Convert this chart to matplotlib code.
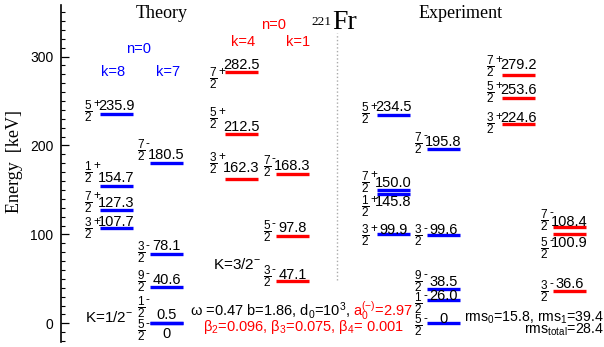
import matplotlib
matplotlib.use('Agg')
import matplotlib.pyplot as plt
from matplotlib.ticker import MultipleLocator

plt.rcParams['font.family'] = ['Liberation Sans', 'DejaVu Sans']
plt.rcParams['mathtext.fontset'] = 'custom'
plt.rcParams['mathtext.rm'] = 'Liberation Sans'
plt.rcParams['mathtext.it'] = 'Liberation Sans:italic'
plt.rcParams['mathtext.bf'] = 'Liberation Sans:bold'
plt.rcParams['mathtext.sf'] = 'Liberation Sans'

# --- level energies (keV) and spins ---
# theory, K=1/2- (blue): k=8 and k=7 columns
th_k8_E = [235.9, 154.7, 127.3, 107.7]
th_k8_J = ['5/2+', '1/2+', '7/2+', '3/2+']
th_k7_E = [180.5, 78.1, 40.6, 0.5, 0]
th_k7_J = ['7/2-', '3/2-', '9/2-', '1/2-', '5/2-']
# theory, K=3/2- (red): k=4 and k=1 columns
th_k4_E = [282.5, 212.5, 162.3]
th_k4_J = ['7/2+', '5/2+', '3/2+']
th_k1_E = [168.3, 97.8, 47.1]
th_k1_J = ['7/2-', '5/2-', '3/2-']
# experiment
ex_b1_E = [234.5, 150.0, 145.8, 99.9]
ex_b1_J = ['5/2+', '7/2+', '1/2+', '3/2+']
ex_b2_E = [195.8, 99.6, 38.5, 26.0, 0]
ex_b2_J = ['7/2-', '3/2-', '9/2-', '1/2-', '5/2-']
ex_r1_E = [279.2, 253.6, 224.6]
ex_r1_J = ['7/2+', '5/2+', '3/2+']
ex_r2_E = [108.4, 100.9, 36.6]
ex_r2_J = ['7/2-', '5/2-', '3/2-']

# --- layout: column left edge (px), colour, label nudges in keV ---
W = 33
columns = [
    (100, 'blue', th_k8_E, th_k8_J, [3, 15, 9, -1], [10, 10, 10, 8]),
    (150, 'blue', th_k7_E, th_k7_J, [14, 2, 7, 18, -8], [10, 10, 10, 10, -10]),
    (225, 'red', th_k4_E, th_k4_J, [-7, 18, 18], [10, 10, 14]),
    (276, 'red', th_k1_E, th_k1_J, [9, 6, 6], [10, 11, 9]),
    (377, 'blue', ex_b1_E, ex_b1_J, [2, 9, -14, -1], [10, 10, -8, 7]),
    (427, 'blue', ex_b2_E, ex_b2_J, [7, -1, 9, -3, -2], [10, 7, 10, 6, 7]),
    (502, 'red', ex_r1_E, ex_r1_J, [10, 6, 0], [13, 10, 8]),
    (553, 'red', ex_r2_E, ex_r2_J, [8, -16, 0], [7, -9, 9]),
]

YLIM = (-21, 358)
PX = 337 / (YLIM[1] - YLIM[0])   # pixels per keV


def val_str(e):
    return '0' if e == 0 else '%.1f' % e


def spin_label(ax, x0, yc, j, fs=8.5):
    num, rest = j.split('/')
    den, sign = rest[:-1], rest[-1]
    sw = 7 if sign == '+' else 4
    ax.text(x0 - sw, yc, r'$\dfrac{%s}{%s}$' % (num, den), ha='right', va='center', fontsize=fs)
    ax.text(x0 - sw, yc + 8 / PX, sign, ha='left', va='center_baseline', fontsize=fs)


fig = plt.figure(figsize=(6.04, 3.47), dpi=100)
ax = fig.add_axes([61 / 604, 5 / 347, 543 / 604, 337 / 347])
ax.set_xlim(61, 604)
ax.set_ylim(*YLIM)

for x0, c, E, J, fdy, vdy in columns:
    for e, j, fd, vd in zip(E, J, fdy, vdy):
        ax.hlines(e, x0, x0 + W, color=c, lw=2.4)
        ax.text(x0 + W / 2, e + vd, val_str(e), ha='center', va='center_baseline', fontsize=10.5)
        spin_label(ax, x0, e + fd, j)

# separator
ax.vlines(337, 49, 327, color='#aaaaaa', lw=1, linestyles=':')

# headers
ax.text(162, 348, 'Theory', family='Liberation Serif', fontsize=13, ha='center', va='center')
ax.text(461, 349, 'Experiment', family='Liberation Serif', fontsize=13, ha='center', va='center')
ax.text(331, 335, '221', family='Liberation Serif', fontsize=9.5, ha='right', va='baseline')
ax.text(332, 331, 'Fr', family='Liberation Serif', fontsize=20, ha='left', va='baseline')
ax.text(15, 182, 'Energy  [keV]', family='Liberation Serif', fontsize=13,
        rotation=90, ha='center', va='center')

ax.text(139, 310, 'n=0', color='blue', fontsize=10.5, ha='center', va='center_baseline')
ax.text(113, 284, 'k=8', color='blue', fontsize=10.5, ha='center', va='center_baseline')
ax.text(168, 284, 'k=7', color='blue', fontsize=10.5, ha='center', va='center_baseline')
ax.text(274, 337, 'n=0', color='red', fontsize=10.5, ha='center', va='center_baseline')
ax.text(243, 318, 'k=4', color='red', fontsize=10.5, ha='center', va='center_baseline')
ax.text(298, 318, 'k=1', color='red', fontsize=10.5, ha='center', va='center_baseline')

ax.text(85, 8, r'K=1/2$^{-}$', fontsize=11, ha='left', va='center_baseline')
ax.text(213, 68, r'K=3/2$^{-}$', fontsize=11, ha='left', va='center_baseline')

ax.text(190, 17, r'ω =0.47 b=1.86, d$_0$=10$^3$,', fontsize=10.5, ha='left', va='center_baseline')
ax.text(353, 17, r'a$_0^{(-)}$=2.97', color='red', fontsize=10.5, ha='left', va='center_baseline')
ax.text(203, -1, r'β$_2$=0.096, β$_3$=0.075, β$_4$= 0.001', color='red',
        fontsize=10.5, ha='left', va='center_baseline')
ax.text(604, 9, r'rms$_0$=15.8, rms$_1$=39.4', fontsize=10.2, ha='right', va='center_baseline')
ax.text(604, -5, r'rms$_{\mathrm{total}}$=28.4', fontsize=10.2, ha='right', va='center_baseline')

# axis styling
for s in ['top', 'right', 'bottom']:
    ax.spines[s].set_visible(False)
ax.spines['left'].set_linewidth(1.2)
ax.set_xticks([])
ax.set_yticks([0, 100, 200, 300])
ax.yaxis.set_minor_locator(MultipleLocator(10))
ax.tick_params(axis='y', which='major', direction='in', length=5.5, width=0.9,
               labelsize=10, pad=5.5)
ax.tick_params(axis='y', which='minor', direction='in', length=3, width=0.8)

fig.savefig('out.png', dpi=100)
